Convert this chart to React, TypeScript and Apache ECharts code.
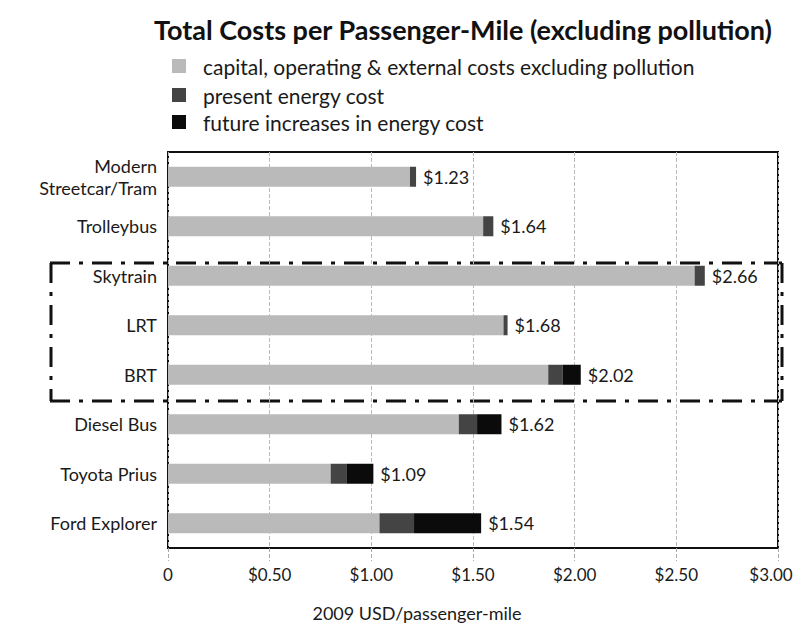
import React, { useEffect, useRef } from "react";
import * as echarts from "echarts";

const categories = [
  "Modern\nStreetcar/Tram",
  "Trolleybus",
  "Skytrain",
  "LRT",
  "BRT",
  "Diesel Bus",
  "Toyota Prius",
  "Ford Explorer",
];
const capitalCosts = [1.19, 1.55, 2.59, 1.65, 1.87, 1.43, 0.8, 1.04];
const presentEnergy = [0.03, 0.05, 0.05, 0.02, 0.07, 0.09, 0.08, 0.17];
const futureEnergy = [0, 0, 0, 0, 0.09, 0.12, 0.13, 0.33];
const totalLabels = [1.23, 1.64, 2.66, 1.68, 2.02, 1.62, 1.09, 1.54];
const seriesNames = [
  "capital, operating & external costs excluding pollution",
  "present energy cost",
  "future increases in energy cost",
];
const seriesColors = ["#bababa", "#444444", "#0b0b0b"];
const tickLabels = ["0", "$0.50", "$1.00", "$1.50", "$2.00", "$2.50", "$3.00"];

const FONT = "Lato";

export default function App() {
  const ref = useRef<HTMLDivElement>(null);
  useEffect(() => {
    if (!ref.current) return;
    const chart = echarts.init(ref.current, undefined, { renderer: "svg" });
    const dash = [20, 9, 4, 9];
    const legendRowsY = [66, 95, 122];
    const legendGraphics: any[] = [];
    seriesNames.forEach((name, i) => {
      legendGraphics.push({
        type: "rect",
        shape: { x: 172, y: legendRowsY[i] - 7, width: 14, height: 14 },
        style: { fill: seriesColors[i] },
      });
      legendGraphics.push({
        type: "text",
        x: 203,
        y: legendRowsY[i],
        style: {
          text: name,
          fontFamily: FONT,
          fontSize: 21,
          fill: "#1a1a1a",
          textAlign: "left",
          textVerticalAlign: "middle",
        },
      });
    });
    chart.setOption({
      animation: false,
      backgroundColor: "#ffffff",
      textStyle: { fontFamily: FONT, color: "#1a1a1a" },
      title: {
        text: "Total Costs per Passenger-Mile (excluding pollution)",
        left: 458,
        textAlign: "center",
        top: 11,
        textStyle: { fontFamily: FONT, fontSize: 27, fontWeight: "bold", color: "#111" },
      },
      grid: {
        left: 168,
        right: 24,
        top: 152,
        bottom: 83,
        show: true,
        borderColor: "#111",
        borderWidth: 2,
        backgroundColor: "transparent",
      },
      xAxis: {
        type: "value",
        min: 0,
        max: 3,
        interval: 0.5,
        axisLine: { show: false },
        axisTick: { show: true, length: 13, lineStyle: { color: "#aaa", type: "dashed" } },
        splitLine: { show: true, lineStyle: { color: "#bbb", type: "dashed", width: 1 } },
        axisLabel: {
          fontFamily: FONT,
          fontSize: 17,
          color: "#1a1a1a",
          margin: 18,
          formatter: (v: number) => {
            const idx = Math.round(v / 0.5);
            const t = tickLabels[idx] ?? "";
            return idx === tickLabels.length - 1 ? "{e|" + t + "}" : t;
          },
          rich: {
            e: { fontFamily: FONT, fontSize: 17, color: "#1a1a1a", padding: [0, 14, 0, 0] },
          },
        },
      },
      yAxis: {
        type: "category",
        data: categories,
        inverse: true,
        axisLine: { show: false },
        axisTick: { show: false },
        axisLabel: {
          fontFamily: FONT,
          fontSize: 18,
          color: "#1a1a1a",
          margin: 11,
          lineHeight: 22,
        },
      },
      series: [
        {
          name: seriesNames[0],
          type: "bar",
          stack: "total",
          barWidth: 20,
          itemStyle: { color: seriesColors[0] },
          data: capitalCosts,
        },
        {
          name: seriesNames[1],
          type: "bar",
          stack: "total",
          barWidth: 20,
          itemStyle: { color: seriesColors[1] },
          data: presentEnergy,
        },
        {
          name: seriesNames[2],
          type: "bar",
          stack: "total",
          barWidth: 20,
          itemStyle: { color: seriesColors[2] },
          data: futureEnergy,
          label: {
            show: true,
            position: "right",
            distance: 7,
            fontFamily: FONT,
            fontSize: 18,
            color: "#1a1a1a",
            formatter: (p: any) => "$" + totalLabels[p.dataIndex].toFixed(2),
          },
        },
      ],
      graphic: [
        ...legendGraphics,
        {
          type: "line",
          shape: { x1: 50, y1: 263, x2: 782, y2: 263 },
          style: { stroke: "#111", lineWidth: 3, lineDash: dash },
        },
        {
          type: "line",
          shape: { x1: 50, y1: 401, x2: 782, y2: 401 },
          style: { stroke: "#111", lineWidth: 3, lineDash: dash },
        },
        {
          type: "line",
          shape: { x1: 51, y1: 263, x2: 51, y2: 401 },
          style: { stroke: "#111", lineWidth: 3, lineDash: dash },
        },
        {
          type: "line",
          shape: { x1: 782, y1: 263, x2: 782, y2: 401 },
          style: { stroke: "#111", lineWidth: 3, lineDash: dash },
        },
        {
          type: "text",
          x: 417,
          y: 613,
          style: {
            text: "2009 USD/passenger-mile",
            fontFamily: FONT,
            fontSize: 18,
            fill: "#1a1a1a",
            textAlign: "center",
            textVerticalAlign: "middle",
          },
        },
      ],
    });
    return () => chart.dispose();
  }, []);
  return <div ref={ref} style={{ width: 802, height: 631, margin: -8 }} />;
}
